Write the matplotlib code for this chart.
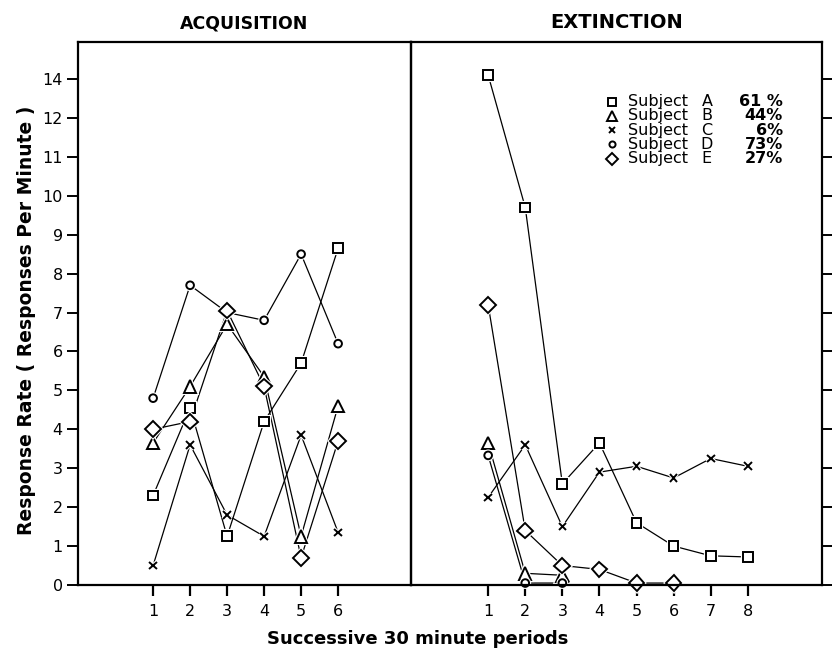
import matplotlib.pyplot as plt
import matplotlib.patheffects as pe

# acquisition periods 1-6
acq_periods = [1, 2, 3, 4, 5, 6]
acq_A = [2.3, 4.55, 1.25, 4.2, 5.7, 8.65]
acq_B = [3.65, 5.1, 6.7, 5.35, 1.25, 4.6]
acq_C = [0.5, 3.6, 1.8, 1.25, 3.85, 1.35]
acq_D = [4.8, 7.7, 7.0, 6.8, 8.5, 6.2]
acq_E = [4.0, 4.2, 7.05, 5.1, 0.7, 3.7]

# extinction periods (each subject stops when it stops)
ext_periods = [1, 2, 3, 4, 5, 6, 7, 8]
ext_A = [13.1, 9.7, 2.6, 3.65, 1.6, 1.0, 0.75, 0.72]
ext_B = [3.65, 0.3, 0.25]
ext_C = [2.25, 3.6, 1.5, 2.9, 3.05, 2.75, 3.25, 3.05]
ext_D = [3.33, 0.05, 0.05]
ext_E = [7.2, 1.4, 0.5, 0.4, 0.05, 0.05]

subjects = ['A', 'B', 'C', 'D', 'E']
percents = ['61 %', '44%', '6%', '73%', '27%']
markers = ['s', '^', 'x', 'o', 'D']
msizes = [7, 9, 5.5, 5.5, 8]

# the tick at 13 is printed as "14" in the original
ytick_pos = list(range(14))
ytick_lab = [str(i) for i in range(13)] + ['14']

acq = [acq_A, acq_B, acq_C, acq_D, acq_E]
ext = [ext_A, ext_B, ext_C, ext_D, ext_E]

fig = plt.figure(figsize=(8.32, 6.51), dpi=100)
ax1 = fig.add_axes([78 / 832, 1 - 585 / 651, 333 / 832, 543 / 651])
ax2 = fig.add_axes([411 / 832, 1 - 585 / 651, 411 / 832, 543 / 651], sharey=ax1)
ax2.patch.set_visible(False)

halo = [pe.Stroke(linewidth=3, foreground='white'), pe.Normal()]

def draw(ax, series):
    for vals, m, ms in zip(series, markers, msizes):
        xs = list(range(1, len(vals) + 1))
        ax.plot(xs, vals, color='black', lw=0.9, zorder=2, clip_on=False)
        ax.plot(xs, vals, ls='none', marker=m, ms=ms, mfc='white', mec='black',
                mew=1.4, zorder=3, clip_on=False, path_effects=halo)

draw(ax1, acq)
draw(ax2, ext)

ax1.set_xlim(-1.03, 7.97)
ax2.set_xlim(-1.08, 10.0)
ax1.set_ylim(0, 13.95)

ax1.set_xticks(acq_periods)
ax2.set_xticks(ext_periods)
ax1.set_yticks(ytick_pos)
ax1.set_yticklabels(ytick_lab)

for ax in (ax1, ax2):
    for s in ax.spines.values():
        s.set_linewidth(1.6)
    ax.spines['bottom'].set_zorder(4)
    ax.tick_params(axis='x', direction='out', length=8, width=1.6, labelsize=11.5, pad=6)
ax1.tick_params(axis='y', direction='out', length=8, width=1.4, labelsize=11.5, pad=3)
ax2.yaxis.tick_right()
ax2.tick_params(axis='y', direction='out', length=8, width=1.4, labelright=False)

ax1.set_title('ACQUISITION', pad=10, family='DejaVu Sans', weight='bold', size=12.5)
ax2.set_title('EXTINCTION', pad=10, family='DejaVu Sans', weight='bold', size=14)

fig.text(0.032, 0.508, 'Response Rate ( Responses Per Minute )', rotation=90,
         ha='center', va='center', fontsize=13.5, weight='bold')
fig.text(0.502, 0.018, 'Successive 30 minute periods', ha='center', va='center',
         fontsize=13, weight='bold')

# key in the extinction panel
for i in range(5):
    yy = 0.890 - i * 0.0262
    ax2.plot([0.489], [yy], transform=ax2.transAxes, ls='none', marker=markers[i],
             ms=msizes[i] * 0.8, mfc='white', mec='black', mew=1.4, clip_on=False)
    ax2.text(0.528, yy, 'Subject', transform=ax2.transAxes, va='center', fontsize=11.5)
    ax2.text(0.72, yy, subjects[i], transform=ax2.transAxes, va='center', ha='center',
             fontsize=11.5)
    ax2.text(0.905, yy, percents[i], transform=ax2.transAxes, va='center', ha='right',
             fontsize=11.5, weight='bold')

fig.savefig('out.png', dpi=100)
